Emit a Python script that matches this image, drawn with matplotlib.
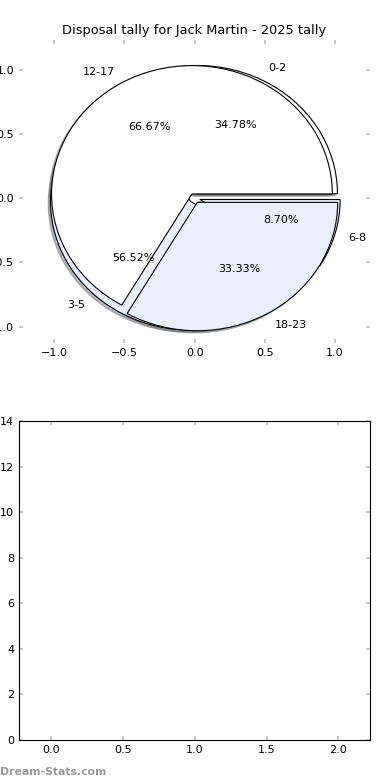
import matplotlib
matplotlib.use("Agg")
import matplotlib.pyplot as plt

# disposal tally buckets, two sets drawn on the same axes
low_labels = ["0-2", "3-5", "6-8"]
low_counts = [8, 13, 2]
high_labels = ["12-17", "18-23"]
high_counts = [2, 1]

player = "Jack Martin"
season = "2025"

LIGHT = "#eaf0fb"

fig = plt.figure(figsize=(3.9, 7.8), dpi=100)
ax_pie = fig.add_axes([0.049, 0.560, 0.900, 0.389])
ax_bar = fig.add_axes([0.049, 0.0513, 0.900, 0.409])

wedge_style = {"edgecolor": "black", "linewidth": 0.8}
text_style = {"fontsize": 8}
shadow_style = {"ox": -0.012, "oy": -0.012, "shade": 0.55}

ax_pie.pie(low_counts, labels=low_labels, autopct="%.2f%%", explode=[0.038] * len(low_counts),
           colors=["white", LIGHT, LIGHT], shadow=shadow_style, frame=True,
           wedgeprops=wedge_style, textprops=text_style)
ax_pie.pie(high_counts, labels=high_labels, autopct="%.2f%%", explode=[0.038] * len(high_counts),
           colors=["white", LIGHT], shadow=shadow_style, frame=True,
           wedgeprops=wedge_style, textprops=text_style)
ax_pie.set_aspect("auto")
ax_pie.set_xlim(-1.25, 1.25)
ax_pie.set_ylim(-1.13, 1.234)
ax_pie.set_xticks([-1.0, -0.5, 0.0, 0.5, 1.0])
ax_pie.set_yticks([-1.0, -0.5, 0.0, 0.5, 1.0])
for spine in ax_pie.spines.values():
    spine.set_visible(False)
ax_pie.set_title(f"Disposal tally for {player} - {season} tally", fontsize=9.4, pad=4)

ax_bar.set_xlim(-0.22, 2.22)
ax_bar.set_ylim(0, 14)
ax_bar.set_xticks([0.0, 0.5, 1.0, 1.5, 2.0])
ax_bar.set_yticks(range(0, 15, 2))

for ax in (ax_pie, ax_bar):
    ax.tick_params(direction="in", top=True, right=True, labelsize=8,
                   color="#bbbbbb", length=3, width=1.2)

fig.text(0.0, 0.007, "Dream-Stats.com", fontsize=7.8, color="#999999", fontweight="bold")

fig.savefig("out.png", dpi=100)
